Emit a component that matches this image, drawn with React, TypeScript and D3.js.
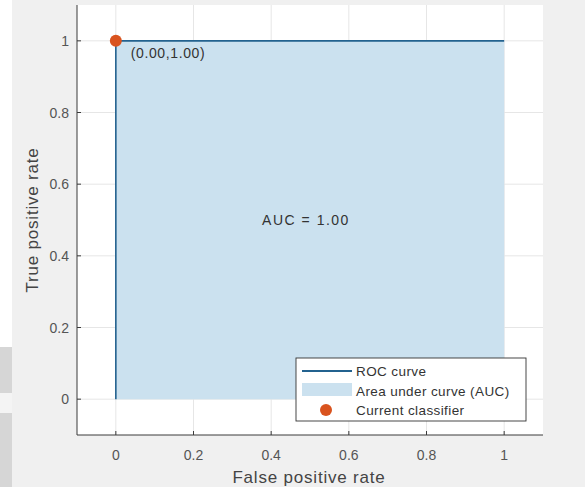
import React from "react";
import * as d3 from "d3";

// ROC curve points (false positive rate, true positive rate)
const rocX = [0, 0, 1];
const rocY = [0, 1, 1];
const xTicks = [0, 0.2, 0.4, 0.6, 0.8, 1];
const yTicks = [0, 0.2, 0.4, 0.6, 0.8, 1];
const classifier = [0, 1];
const aucValue = 1.0;
const legendLabels = ["ROC curve", "Area under curve (AUC)", "Current classifier"];

const W = 585;
const H = 487;
const font = "'Liberation Sans', Arial, sans-serif";

export default function App() {
  const x = d3.scaleLinear().domain([-0.1, 1.1]).range([77, 543]);
  const y = d3.scaleLinear().domain([-0.1, 1.1]).range([435, 5]);

  const pts: [number, number][] = rocX.map((v, i) => [v, rocY[i]]);
  const line = d3.line<[number, number]>().x((d) => x(d[0])).y((d) => y(d[1]));
  const area = d3
    .area<[number, number]>()
    .x((d) => x(d[0]))
    .y0(y(0))
    .y1((d) => y(d[1]));

  const lx = 296, ly = 358, lw = 230, lh = 63;

  return (
    <svg width={W} height={H} style={{ position: "absolute", left: 0, top: 0 }}>
      <rect x={0} y={0} width={W} height={H} fill="#f0f0f0" />
      {/* left strip from screenshot edge */}
      <rect x={0} y={0} width={12} height={347} fill="#ffffff" />
      <rect x={0} y={347} width={12} height={140} fill="#d6d6d6" />
      <rect x={0} y={393} width={12} height={20} fill="#f4f4f4" />

      <rect x={x(-0.1)} y={y(1.1)} width={x(1.1) - x(-0.1)} height={y(-0.1) - y(1.1)} fill="#ffffff" />

      {/* grid */}
      {xTicks.map((t) => (
        <line key={"gx" + t} x1={x(t)} x2={x(t)} y1={y(1.1)} y2={y(-0.1)} stroke="#e6e6e6" strokeWidth={1} />
      ))}
      {yTicks.map((t) => (
        <line key={"gy" + t} x1={x(-0.1)} x2={x(1.1)} y1={y(t)} y2={y(t)} stroke="#e6e6e6" strokeWidth={1} />
      ))}

      <path d={area(pts) || ""} fill="#cbe1ef" />
      <path d={line(pts) || ""} fill="none" stroke="#23628f" strokeWidth={1.6} />

      {/* axes */}
      <line x1={x(-0.1)} x2={x(1.1)} y1={y(-0.1)} y2={y(-0.1)} stroke="#3a3a3a" strokeWidth={1} />
      <line x1={x(-0.1)} x2={x(-0.1)} y1={y(1.1)} y2={y(-0.1)} stroke="#3a3a3a" strokeWidth={1} />
      {xTicks.map((t) => (
        <g key={"tx" + t}>
          <line x1={x(t)} x2={x(t)} y1={y(-0.1)} y2={y(-0.1) - 4} stroke="#3a3a3a" />
          <text x={x(t)} y={y(-0.1) + 25} textAnchor="middle" fontFamily={font} fontSize={14} fill="#555">
            {String(t)}
          </text>
        </g>
      ))}
      {yTicks.map((t) => (
        <g key={"ty" + t}>
          <line x1={x(-0.1)} x2={x(-0.1) + 4} y1={y(t)} y2={y(t)} stroke="#3a3a3a" />
          <text x={x(-0.1) - 8} y={y(t) + 5} textAnchor="end" fontFamily={font} fontSize={14} fill="#555">
            {String(t)}
          </text>
        </g>
      ))}

      <text x={309} y={483} textAnchor="middle" fontFamily={font} fontSize={17} letterSpacing={0.8} fill="#444">
        False positive rate
      </text>
      <text
        transform={`translate(38,${(y(1.1) + y(-0.1)) / 2}) rotate(-90)`}
        textAnchor="middle"
        fontFamily={font}
        fontSize={17}
        letterSpacing={0.8}
        fill="#444"
      >
        True positive rate
      </text>

      <circle cx={x(classifier[0])} cy={y(classifier[1])} r={6} fill="#d9531e" />
      <text x={x(classifier[0]) + 15} y={y(classifier[1]) + 17} fontFamily={font} fontSize={14} letterSpacing={0.6} fill="#333">
        ({classifier[0].toFixed(2)},{classifier[1].toFixed(2)})
      </text>
      <text x={306} y={y(0.5) + 5} textAnchor="middle" fontFamily={font} fontSize={14} letterSpacing={1.5} fill="#333">
        AUC = {aucValue.toFixed(2)}
      </text>

      {/* legend */}
      <rect x={lx} y={ly} width={lw} height={lh} fill="#ffffff" stroke="#333" strokeWidth={0.9} />
      <line x1={lx + 6} x2={lx + 56} y1={ly + 13} y2={ly + 13} stroke="#23628f" strokeWidth={2} />
      <rect x={lx + 6} y={ly + 25} width={50} height={13} fill="#cbe1ef" />
      <circle cx={lx + 30} cy={ly + 52} r={6} fill="#d9531e" />
      {legendLabels.map((l, i) => (
        <text key={l} x={lx + 60} y={ly + 18 + i * 19.5} fontFamily={font} fontSize={13.5} letterSpacing={0.4} fill="#333">
          {l}
        </text>
      ))}
    </svg>
  );
}
